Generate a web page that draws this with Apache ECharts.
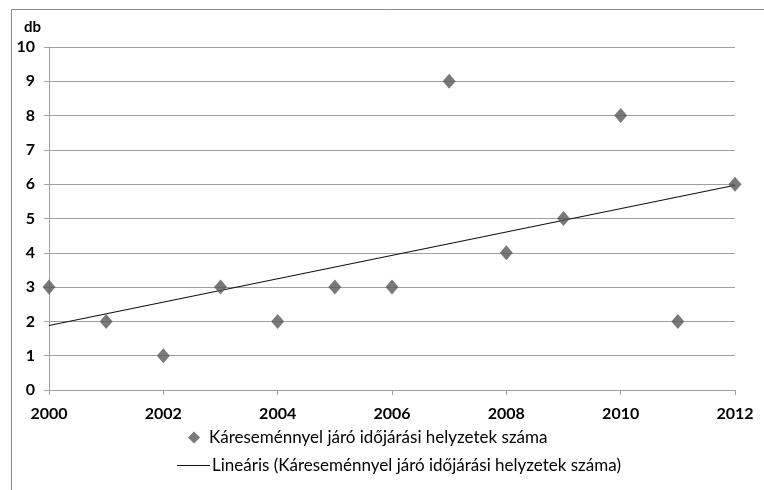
<!DOCTYPE html>
<html>
<head>
<meta charset="utf-8">
<script src="https://cdn.jsdelivr.net/npm/echarts@6/dist/echarts.min.js"></script>
<style>
html,body{margin:0;padding:0;background:#fff;}
#c{width:764px;height:490px;}
</style>
</head>
<body>
<div id="c"></div>
<script>
const years = [2000, 2001, 2002, 2003, 2004, 2005, 2006, 2007, 2008, 2009, 2010, 2011, 2012];
const counts = [3, 2, 1, 3, 2, 3, 3, 9, 4, 5, 8, 2, 6];
const trendYears = [2000, 2012];
const trendValues = [1.88, 5.97];
const seriesName = 'Káreseménnyel járó időjárási helyzetek száma';
const trendName = 'Lineáris (Káreseménnyel járó időjárási helyzetek száma)';
const yAxisName = 'db';

const font = 'Lato, "Open Sans", sans-serif';
const chart = echarts.init(document.getElementById('c'));
chart.setOption({
  animation: false,
  backgroundColor: '#fff',
  graphic: [{
    type: 'rect', left: 9, top: 7,
    shape: {width: 800, height: 600},
    style: {fill: 'none', stroke: '#8a8a8a', lineWidth: 1}
  }],
  grid: {left: 49, right: 29, top: 47, bottom: 100},
  xAxis: {
    type: 'value', min: 2000, max: 2012, interval: 2,
    axisLine: {show: true, lineStyle: {color: '#a0a0a0'}},
    axisTick: {show: true, length: 5, lineStyle: {color: '#a0a0a0'}},
    splitLine: {show: false},
    axisLabel: {color: '#000', fontFamily: font, fontWeight: 'bold', fontSize: 16, margin: 16,
      formatter: v => String(v)}
  },
  yAxis: {
    type: 'value', min: 0, max: 10, interval: 1,
    name: yAxisName,
    nameLocation: 'end',
    nameGap: 12,
    nameTextStyle: {color: '#000', fontFamily: font, fontWeight: 'bold', fontSize: 15, align: 'right', padding: [0, 8, 0, 0]},
    axisLine: {show: true, lineStyle: {color: '#a0a0a0'}},
    axisTick: {show: true, length: 5, lineStyle: {color: '#a0a0a0'}},
    splitLine: {show: true, lineStyle: {color: '#a0a0a0', width: 1}},
    axisLabel: {color: '#000', fontFamily: font, fontWeight: 'bold', fontSize: 16, margin: 14}
  },
  legend: [{
    data: [seriesName],
    left: 188, top: 429, padding: 0,
    itemWidth: 12, itemHeight: 12,
    textStyle: {color: '#000', fontFamily: font, fontSize: 17, padding: [0, 0, 0, 4]}
  }, {
    data: [{name: trendName, icon: 'rect'}],
    left: 177, top: 457, padding: 0,
    itemWidth: 33, itemHeight: 1.2,
    textStyle: {color: '#000', fontFamily: font, fontSize: 17, padding: [0, 0, 0, -3]}
  }],
  series: [{
    name: seriesName,
    type: 'scatter',
    symbol: 'diamond',
    symbolSize: [13, 15],
    itemStyle: {color: '#585858'},
    data: years.map((y, i) => [y, counts[i]]),
    z: 3
  }, {
    name: trendName,
    type: 'line',
    symbol: 'none',
    lineStyle: {color: '#111', width: 1.2},
    itemStyle: {color: '#111'},
    data: trendYears.map((y, i) => [y, trendValues[i]]),
    z: 2
  }]
});
</script>
</body>
</html>
